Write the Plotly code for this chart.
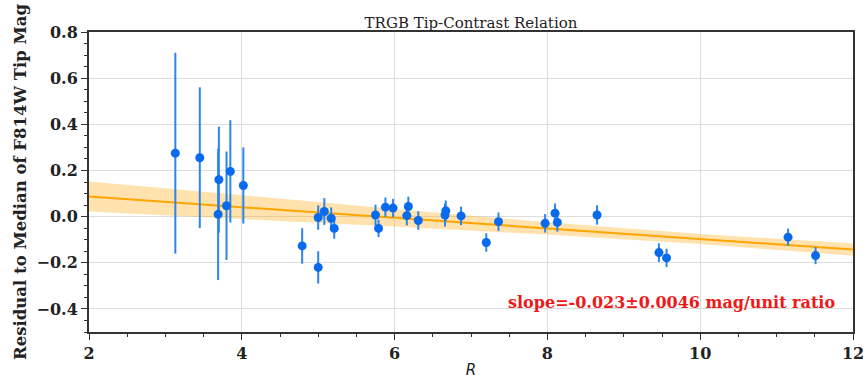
import plotly.graph_objects as go

# Tip-contrast ratio R and the TRGB tip-magnitude residuals with 1-sigma errors
ratio = [3.13, 3.45, 3.70, 3.69, 3.80, 3.85, 4.02, 4.79, 5.00, 5.00, 5.08, 5.17, 5.21,
         5.75, 5.79, 5.88, 5.98, 6.16, 6.18, 6.31, 6.66, 6.67, 6.87, 7.20, 7.36,
         7.97, 8.10, 8.13, 8.65, 9.46, 9.56, 11.15, 11.51]
residual = [0.275, 0.255, 0.160, 0.010, 0.047, 0.196, 0.135, -0.127, -0.220, -0.004, 0.022, -0.007, -0.051,
            0.007, -0.051, 0.041, 0.037, 0.004, 0.044, -0.017, 0.007, 0.025, 0.003, -0.112, -0.022,
            -0.029, 0.015, -0.025, 0.007, -0.156, -0.179, -0.089, -0.169]
residual_err = [0.435, 0.305, 0.230, 0.285, 0.235, 0.222, 0.165, 0.077, 0.070, 0.053, 0.058, 0.047, 0.045,
                0.045, 0.038, 0.042, 0.040, 0.042, 0.042, 0.040, 0.050, 0.045, 0.040, 0.040, 0.040,
                0.040, 0.042, 0.040, 0.042, 0.040, 0.040, 0.037, 0.037]

# Linear fit and its confidence band
slope = -0.023
slope_err = 0.0046
intercept = 0.133
fit_x = [2, 12]
band_x = [2, 4, 6, 8, 10, 12]
band_upper = [0.152, 0.092, 0.033, -0.024, -0.075, -0.117]
band_lower = [0.022, -0.010, -0.043, -0.078, -0.119, -0.170]

x_ticks = [2, 4, 6, 8, 10, 12]
y_ticks = [-0.4, -0.2, 0.0, 0.2, 0.4, 0.6, 0.8]

SERIF = "DejaVu Serif"
fit_y = [intercept + slope * x for x in fit_x]

fig = go.Figure()

fig.add_trace(go.Scatter(
    x=band_x + band_x[::-1],
    y=band_upper + band_lower[::-1],
    fill="toself", fillcolor="rgba(255,165,0,0.32)",
    line=dict(width=0), mode="lines", hoverinfo="skip", showlegend=False,
))
fig.add_trace(go.Scatter(
    x=fit_x, y=fit_y, mode="lines",
    line=dict(color="#FFA500", width=2), showlegend=False,
))
fig.add_trace(go.Scatter(
    x=ratio, y=residual, mode="markers",
    marker=dict(color="#0a6aee", size=9),
    error_y=dict(type="data", array=residual_err, visible=True,
                 color="#2a86ea", thickness=2, width=0),
    showlegend=False,
))

fig.add_annotation(
    x=0.979, y=0.10, xref="paper", yref="paper",
    text=f"slope={slope}\u00b1{slope_err} mag/unit ratio",
    showarrow=False, xanchor="right", yanchor="middle",
    font=dict(family=SERIF, size=16, color="#f01818", weight="bold"),
)

axis_common = dict(
    automargin=False,
    showline=True, linecolor="#333333", linewidth=2, mirror=True,
    showgrid=True, gridcolor="#dddddd", gridwidth=1,
    ticks="outside", ticklen=6, tickwidth=1.2, tickcolor="#333333",
    zeroline=False,
    tickfont=dict(family=SERIF, size=16, color="#222222", weight="bold"),
)

fig.update_xaxes(
    range=[2, 12], tickvals=x_ticks, ticktext=[str(t) for t in x_ticks],
    minor=dict(dtick=0.5, ticks="outside", ticklen=3, tickcolor="#333333", showgrid=False),
    title=dict(text="<i>R</i>", font=dict(family="DejaVu Sans", size=15, color="#222222"), standoff=7),
    **axis_common,
)
fig.update_yaxes(
    range=[-0.5, 0.8], tickvals=y_ticks,
    ticktext=[f"{t:.1f}".replace("-", "\u2212") for t in y_ticks],
    minor=dict(dtick=0.05, ticks="outside", ticklen=3, tickcolor="#333333", showgrid=False),
    title=dict(text="Residual to Median of F814W Tip Mag",
               font=dict(family=SERIF, size=16.5, color="#222222", weight="bold"), standoff=6),
    **axis_common,
)

fig.update_layout(
    width=867, height=379,
    margin=dict(l=89, r=14, t=32, b=47, autoexpand=False),
    plot_bgcolor="white", paper_bgcolor="white",
    title=dict(text="TRGB Tip-Contrast Relation", x=0.5, xanchor="center",
               xref="paper", y=1, yref="paper", yanchor="bottom", pad=dict(b=4),
               font=dict(family=SERIF, size=15, color="#222222")),
)

fig.write_html("out.html")
